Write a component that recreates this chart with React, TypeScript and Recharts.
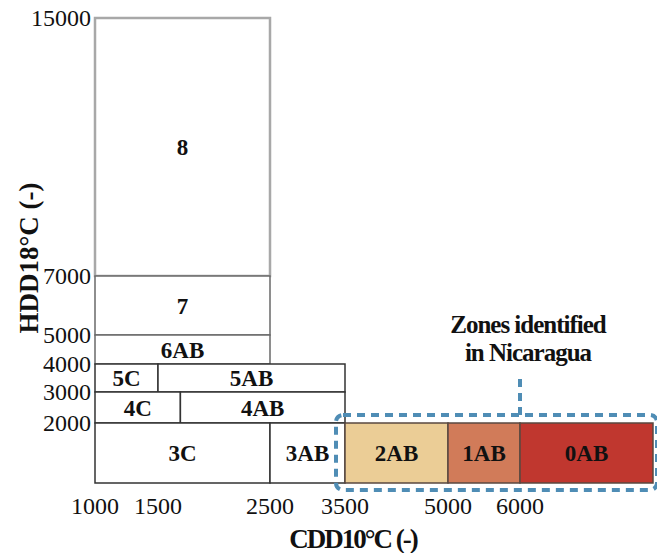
import React from 'react';
import { ComposedChart, XAxis, YAxis, ReferenceArea, ReferenceLine } from 'recharts';

// Zone definitions (CDD10°C range, HDD18°C range)
const zoneNames = ['8', '7', '6AB', '5C', '5AB', '4C', '4AB', '3C', '3AB', '2AB', '1AB', '0AB'];
const zoneCddMin = [1000, 1000, 1000, 1000, 1500, 1000, 1700, 1000, 2500, 3500, 5000, 6000];
const zoneCddMax = [2500, 2500, 2500, 1500, 3500, 1700, 3500, 2500, 3500, 5000, 6000, 7500];
const zoneHddMin = [7000, 5000, 4000, 3000, 3000, 2000, 2000, 0, 0, 0, 0, 0];
const zoneHddMax = [15000, 7000, 5000, 4000, 4000, 3000, 3000, 2000, 2000, 2000, 2000, 2000];

// Tick labels
const xTickValues = [1000, 1500, 2500, 3500, 5000, 6000];
const yTickValues = [2000, 3000, 4000, 5000, 7000, 15000];

// Highlighted (Nicaragua) zones range and annotation
const highlightCdd = [3500, 7500];
const highlightHdd = [0, 2000];
const connectorCdd = 6000;
const connectorHdd = [2000, 3600];
const annotationLines = ['Zones identified', 'in Nicaragua'];

// The original figure uses a non-uniform (hand-spaced) axis: piecewise-linear scale stops
const xScaleStops = [1000, 1500, 2500, 3500, 5000, 6000, 7500];
const xScaleSpacing = [0, 63, 175, 250, 353, 425, 558];
const yScaleStops = [0, 2000, 3000, 4000, 5000, 7000, 15000];
const yScaleSpacing = [0, 60, 91, 119, 148, 207, 465];

const piecewise = (v: number, from: number[], to: number[]) => {
  for (let i = 0; i < from.length - 1; i++) {
    if (v <= from[i + 1] || i === from.length - 2) {
      const t = (v - from[i]) / (from[i + 1] - from[i]);
      return to[i] + t * (to[i + 1] - to[i]);
    }
  }
  return to[to.length - 1];
};
const toX = (v: number) => piecewise(v, xScaleStops, xScaleSpacing);
const toY = (v: number) => piecewise(v, yScaleStops, yScaleSpacing);
const fromX = (u: number) => piecewise(u, xScaleSpacing, xScaleStops);
const fromY = (u: number) => piecewise(u, yScaleSpacing, yScaleStops);

const chartData = zoneNames.map((name, i) => ({
  name,
  x: toX(zoneCddMin[i]),
  y: toY(zoneHddMin[i]),
}));

const zoneFill: Record<string, string> = {
  '2AB': '#EBCD96',
  '1AB': '#D17B59',
  '0AB': '#C0372F',
};
const zoneStroke: Record<string, string> = {
  '8': '#a8a8a8',
  '7': '#6a6a6a',
  '6AB': '#6a6a6a',
  '2AB': '#5a4840',
  '1AB': '#5a4840',
  '0AB': '#5a4840',
};

const FONT = "'Liberation Serif', 'Times New Roman', serif";
const BLUE = '#4F8DB5';

const XTick = (props: any) => {
  const { x, y, payload } = props;
  return (
    <text x={x} y={y} dy={31} textAnchor="middle" fontSize={24} fill="#111" fontFamily={FONT}>
      {Math.round(fromX(payload.value))}
    </text>
  );
};

const YTick = (props: any) => {
  const { x, y, payload } = props;
  return (
    <text x={x - 4} y={y} dy={8} textAnchor="end" fontSize={24} fill="#111" fontFamily={FONT}>
      {Math.round(fromY(payload.value))}
    </text>
  );
};

const HighlightBox = (props: any) => {
  const { x, y, width, height } = props;
  if (x == null) return null;
  return (
    <rect
      x={x - 9}
      y={y - 8}
      width={width + 13}
      height={height + 15}
      rx={7}
      ry={7}
      fill="none"
      stroke={BLUE}
      strokeWidth={4}
      strokeDasharray="8 6"
    />
  );
};

const Connector = (props: any) => {
  const { x1, y1, x2, y2 } = props;
  if (x1 == null) return null;
  const top = Math.min(y1, y2);
  const bottom = Math.max(y1, y2);
  return (
    <g>
      <line x1={x1} y1={bottom - 8} x2={x2} y2={top} stroke={BLUE} strokeWidth={4} strokeDasharray="8 6" />
      {annotationLines.map((t, i) => (
        <text
          key={t}
          x={x1 + 8}
          y={top - 42 + i * 28}
          textAnchor="middle"
          fontSize={25}
          fontWeight="bold"
          letterSpacing={-1}
          fill="#111"
          fontFamily={FONT}
        >
          {t}
        </text>
      ))}
    </g>
  );
};

export default function App() {
  return (
    <div style={{ position: 'absolute', left: 0, top: 0, fontFamily: FONT, background: '#fff' }}>
      <ComposedChart width={657} height={553} margin={{ top: 18, right: 4, bottom: 0, left: 0 }} data={chartData}>
        <XAxis
          type="number"
          dataKey="x"
          domain={[0, toX(xScaleStops[xScaleStops.length - 1])]}
          ticks={xTickValues.map(toX)}
          interval={0}
          allowDataOverflow
          axisLine={false}
          tickLine={false}
          tickSize={0}
          tickMargin={0}
          height={70}
          tick={<XTick />}
          label={{
            content: () => (
              <text x={353} y={548} textAnchor="middle" fontSize={27} fontWeight="bold" letterSpacing={-2} fill="#111" fontFamily={FONT}>
                CDD10°C (-)
              </text>
            ),
          }}
        />
        <YAxis
          type="number"
          dataKey="y"
          domain={[0, toY(yScaleStops[yScaleStops.length - 1])]}
          ticks={yTickValues.map(toY)}
          interval={0}
          allowDataOverflow
          axisLine={false}
          tickLine={false}
          tickSize={0}
          tickMargin={0}
          width={95}
          tick={<YTick />}
          label={{
            content: () => (
              <text transform="translate(38,258) rotate(-90)" textAnchor="middle" fontSize={27} fontWeight="bold" fill="#111" fontFamily={FONT}>
                HDD18°C (-)
              </text>
            ),
          }}
        />
        {zoneNames.map((name, i) => (
          <ReferenceArea
            key={name}
            x1={toX(zoneCddMin[i])}
            x2={toX(zoneCddMax[i])}
            y1={toY(zoneHddMin[i])}
            y2={toY(zoneHddMax[i])}
            fill={zoneFill[name] || '#ffffff'}
            fillOpacity={1}
            stroke={zoneStroke[name] || '#333333'}
            strokeWidth={name === '8' ? 2.5 : 1.5}
            ifOverflow="visible"
            label={{
              value: name,
              position: 'center',
              fontSize: 23,
              fontWeight: 'bold',
              fill: '#111',
              fontFamily: FONT,
            }}
          />
        ))}
        <ReferenceArea
          x1={toX(highlightCdd[0])}
          x2={toX(highlightCdd[1])}
          y1={toY(highlightHdd[0])}
          y2={toY(highlightHdd[1])}
          ifOverflow="visible"
          shape={<HighlightBox />}
        />
        <ReferenceLine
          segment={[
            { x: toX(connectorCdd), y: toY(connectorHdd[0]) },
            { x: toX(connectorCdd), y: toY(connectorHdd[1]) },
          ]}
          ifOverflow="visible"
          shape={<Connector />}
        />
      </ComposedChart>
    </div>
  );
}
